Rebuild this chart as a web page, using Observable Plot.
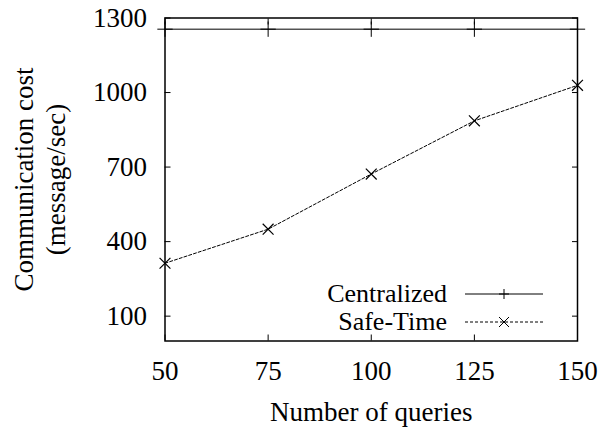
<!DOCTYPE html>
<html>
<head>
<meta charset="utf-8">
<script src="https://cdn.jsdelivr.net/npm/d3@7"></script>
<script src="https://cdn.jsdelivr.net/npm/@observablehq/plot@0.6"></script>
<style>
  html, body { margin: 0; padding: 0; background: #fff; }
  svg { display: block; }
  svg text { font-family: "Liberation Serif", "Times New Roman", serif !important; }
</style>
</head>
<body>
<div id="chart"></div>
<script>
const queries = [50, 75, 100, 125, 150];
const centralized = [1255, 1255, 1255, 1255, 1255];
const safeTime = [313, 450, 672, 886, 1029];
const yTicks = [100, 400, 700, 1000, 1300];
const seriesNames = ["Centralized", "Safe-Time"];
const xLabel = "Number of queries";
const yLabel = "Communication cost\n(message/sec)";

const rows = [
  ...queries.map((q, i) => ({q, v: centralized[i], s: seriesNames[0]})),
  ...queries.map((q, i) => ({q, v: safeTime[i], s: seriesNames[1]}))
];
const cen = rows.filter(d => d.s === seriesNames[0]);
const safe = rows.filter(d => d.s === seriesNames[1]);

const font = '"Liberation Serif", "Times New Roman", serif';
const fs = 27;
const legendFs = 26;

function legend(index, scales, values, dims) {
  const g = d3.create("svg:g");
  const right = dims.width - dims.marginRight;
  const bottom = dims.height - dims.marginBottom;
  const items = [
    {name: seriesNames[0], dash: null, sym: "plus", y: bottom - 46.5},
    {name: seriesNames[1], dash: "3,2", sym: "times", y: bottom - 18.5}
  ];
  for (const it of items) {
    g.append("text")
      .attr("x", right - 130).attr("y", it.y).attr("dy", "0.32em")
      .attr("text-anchor", "end")
      .style("font-size", legendFs + "px").attr("fill", "black")
      .text(it.name);
    g.append("line")
      .attr("x1", right - 112).attr("x2", right - 34)
      .attr("y1", it.y).attr("y2", it.y)
      .attr("stroke", "black").attr("stroke-width", 1)
      .attr("stroke-dasharray", it.dash);
    const cx = right - 73, r = 5;
    if (it.sym === "plus") {
      g.append("path").attr("d", `M${cx - r},${it.y}H${cx + r}M${cx},${it.y - r}V${it.y + r}`)
        .attr("stroke", "black").attr("stroke-width", 1);
    } else {
      g.append("path").attr("d", `M${cx - r},${it.y - r}L${cx + r},${it.y + r}M${cx - r},${it.y + r}L${cx + r},${it.y - r}`)
        .attr("stroke", "black").attr("stroke-width", 1);
    }
  }
  return g.node();
}

const chart = Plot.plot({
  width: 605,
  height: 430,
  marginLeft: 164.5,
  marginRight: 28,
  marginTop: 17.5,
  marginBottom: 89.5,
  style: {fontFamily: font, fontSize: fs + "px", color: "black", background: "white"},
  x: {domain: [50, 150]},
  y: {domain: [0, 1300]},
  marks: [
    Plot.axisY({anchor: "left", ticks: yTicks, tickSize: -6, tickPadding: 24, fontSize: fs, tickFormat: d => String(d), label: null}),
    Plot.axisY({anchor: "right", ticks: yTicks, tickSize: -6, tickFormat: () => "", label: null}),
    Plot.axisX({anchor: "bottom", ticks: queries, tickSize: -6, tickPadding: 26, fontSize: fs, tickFormat: d => String(d), label: null}),
    Plot.axisX({anchor: "top", ticks: queries, tickSize: -6, tickFormat: () => "", label: null}),
    Plot.frame({stroke: "black", strokeWidth: 1.5}),
    Plot.line(cen, {x: "q", y: "v", stroke: "black", strokeWidth: 1}),
    Plot.dot(cen, {x: "q", y: "v", symbol: "plus", r: 5, stroke: "black", strokeWidth: 1}),
    Plot.line(safe, {x: "q", y: "v", stroke: "black", strokeWidth: 1, strokeDasharray: "3,2"}),
    Plot.dot(safe, {x: "q", y: "v", symbol: "times", r: 5, stroke: "black", strokeWidth: 1.2}),
    Plot.text([xLabel], {text: d => d, frameAnchor: "bottom", dy: 71.5, fontSize: fs, fill: "black", textAnchor: "middle", lineAnchor: "middle"}),
    Plot.text([yLabel], {text: d => d, frameAnchor: "left", dx: -126.5, dy: 0, rotate: -90, fontSize: fs, fill: "black", textAnchor: "middle", lineAnchor: "middle", lineHeight: 1.19}),
    legend
  ]
});
document.getElementById("chart").appendChild(chart);
</script>
</body>
</html>
